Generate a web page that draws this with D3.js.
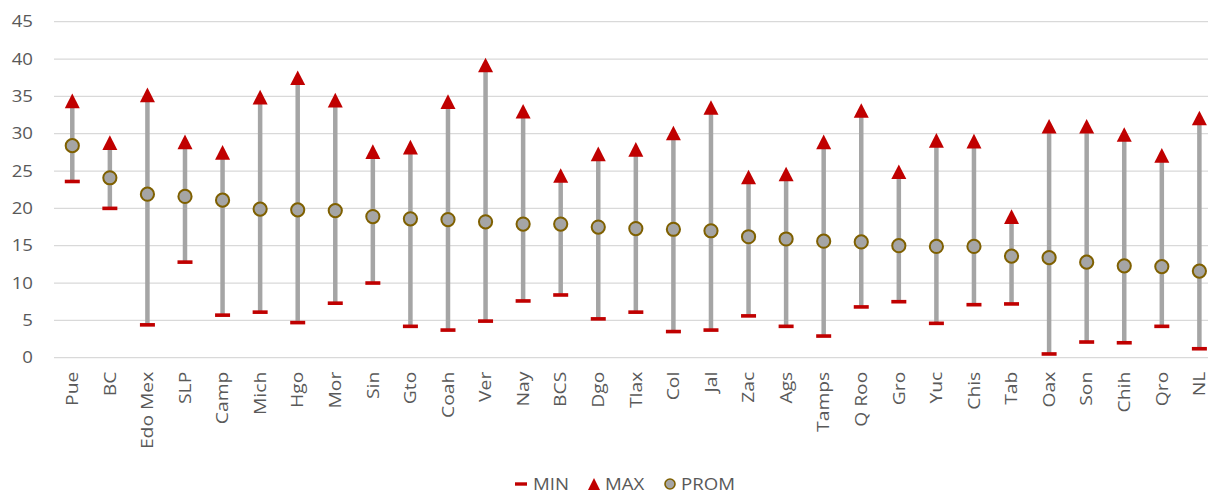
<!DOCTYPE html>
<html>
<head>
<meta charset="utf-8">
<script src="https://cdn.jsdelivr.net/npm/d3@7"></script>
<style>
  html, body { margin: 0; padding: 0; background: #fff; }
  svg { display: block; font-family: "Open Sans", "Noto Sans", sans-serif; }
</style>
</head>
<body>
<svg id="chart" width="1208" height="492"></svg>
<script>
// States and their minimum, maximum and average values
const states = ["Pue","BC","Edo Mex","SLP","Camp","Mich","Hgo","Mor","Sin","Gto","Coah","Ver","Nay","BCS","Dgo","Tlax","Col","Jal","Zac","Ags","Tamps","Q Roo","Gro","Yuc","Chis","Tab","Oax","Son","Chih","Qro","NL"];
const minValues = [23.6,20.0,4.4,12.8,5.7,6.1,4.7,7.3,10.0,4.2,3.7,4.9,7.6,8.4,5.2,6.1,3.5,3.7,5.6,4.2,2.9,6.8,7.5,4.6,7.1,7.2,0.5,2.1,2.0,4.2,1.2];
const maxValues = [34.4,28.8,35.2,28.9,27.5,34.9,37.5,34.5,27.6,28.2,34.3,39.2,33.0,24.4,27.3,27.9,30.1,33.5,24.2,24.6,28.9,33.1,24.9,29.1,29.0,18.9,31.0,31.0,29.9,27.1,32.1];
const avgValues = [28.4,24.1,21.9,21.6,21.1,19.9,19.8,19.7,18.9,18.6,18.5,18.2,17.9,17.9,17.5,17.3,17.2,17.0,16.2,15.9,15.6,15.5,15.0,14.9,14.9,13.6,13.4,12.8,12.3,12.2,11.6];
const yTicks = [0,5,10,15,20,25,30,35,40,45];
const legendLabels = ["MIN","MAX","PROM"];

const rows = states.map((s, i) => ({ state: s, min: minValues[i], max: maxValues[i], avg: avgValues[i] }));

const svg = d3.select("#chart");
const plotLeft = 54, plotTop = 21.7, plotBottom = 357.7;
const step = 37.57;
const plotRight = plotLeft + step * states.length;

const x = d3.scaleBand().domain(states).range([plotLeft - 0.5, plotRight - 0.5]).paddingInner(0).paddingOuter(0);
const y = d3.scaleLinear().domain([0, 45]).range([plotBottom, plotTop]);
const cx = s => x(s) + x.bandwidth() / 2;

const red = "#C00000", gray = "#A5A5A5", gold = "#7F6000", textCol = "#595959";
const fontSize = 16.5, stretch = 1.13;

// horizontal gridlines
svg.append("g")
  .selectAll("line")
  .data(yTicks)
  .join("line")
  .attr("x1", plotLeft).attr("x2", 1208)
  .attr("y1", d => y(d)).attr("y2", d => y(d))
  .attr("stroke", "#D9D9D9").attr("stroke-width", 1.3);

// y axis labels
const yAxis = svg.append("g")
  .attr("transform", `translate(${33},0)`)
  .call(d3.axisLeft(y).tickValues(yTicks).tickSize(0).tickPadding(0));
yAxis.select(".domain").remove();
yAxis.selectAll(".tick text")
  .attr("fill", textCol).attr("font-size", fontSize)
  .attr("font-family", "'Open Sans', sans-serif")
  .attr("x", 0)
  .attr("transform", `scale(${stretch},1)`);

// x axis labels, rotated
const xAxis = svg.append("g")
  .attr("transform", `translate(0,${plotBottom})`)
  .call(d3.axisBottom(x).tickSize(0).tickPadding(0));
xAxis.select(".domain").remove();
xAxis.selectAll("text")
  .attr("fill", textCol).attr("font-size", fontSize)
  .attr("font-family", "'Open Sans', sans-serif")
  .attr("text-anchor", "end")
  .attr("y", 0)
  .attr("dy", "0.35em")
  .attr("transform", `translate(0,14) rotate(-90) scale(${stretch + 0.04},1)`);

// range lines from min to max
svg.append("g")
  .selectAll("line")
  .data(rows)
  .join("line")
  .attr("x1", d => cx(d.state)).attr("x2", d => cx(d.state))
  .attr("y1", d => y(d.min)).attr("y2", d => y(d.max))
  .attr("stroke", gray).attr("stroke-width", 4.5);

// min markers (dash)
const dashW = 15, dashH = 3.6;
svg.append("g")
  .selectAll("rect")
  .data(rows)
  .join("rect")
  .attr("x", d => cx(d.state) - dashW / 2)
  .attr("y", d => y(d.min) - dashH / 2)
  .attr("width", dashW).attr("height", dashH)
  .attr("fill", red);

// max markers (triangle)
const triW = 15, triH = 14.6;
const triPath = `M0,${-triH / 2}L${triW / 2},${triH / 2}L${-triW / 2},${triH / 2}Z`;
svg.append("g")
  .selectAll("path")
  .data(rows)
  .join("path")
  .attr("d", triPath)
  .attr("transform", d => `translate(${cx(d.state)},${y(d.max)})`)
  .attr("fill", red);

// average markers (circle)
svg.append("g")
  .selectAll("circle")
  .data(rows)
  .join("circle")
  .attr("cx", d => cx(d.state)).attr("cy", d => y(d.avg))
  .attr("r", 6.6)
  .attr("fill", gray).attr("stroke", gold).attr("stroke-width", 2);

// legend
const legend = svg.append("g").attr("transform", "translate(0,484)");
const legendItems = [
  { label: legendLabels[0], sx: 521, tx: 533 },
  { label: legendLabels[1], sx: 594, tx: 605 },
  { label: legendLabels[2], sx: 670, tx: 681 }
];
legend.append("rect").attr("x", legendItems[0].sx - 6).attr("y", -1.7).attr("width", 12).attr("height", 3.4).attr("fill", red);
legend.append("path").attr("d", "M0,-6L6,6L-6,6Z").attr("transform", `translate(${legendItems[1].sx},0)`).attr("fill", red);
legend.append("circle").attr("cx", legendItems[2].sx).attr("cy", 0).attr("r", 5).attr("fill", gray).attr("stroke", gold).attr("stroke-width", 1.6);
legend.selectAll("text")
  .data(legendItems)
  .join("text")
  .attr("x", 0).attr("y", 0).attr("dy", "0.35em")
  .attr("transform", d => `translate(${d.tx},0) scale(${stretch},1)`)
  .attr("fill", textCol).attr("font-size", fontSize)
  .text(d => d.label);
</script>
</body>
</html>
